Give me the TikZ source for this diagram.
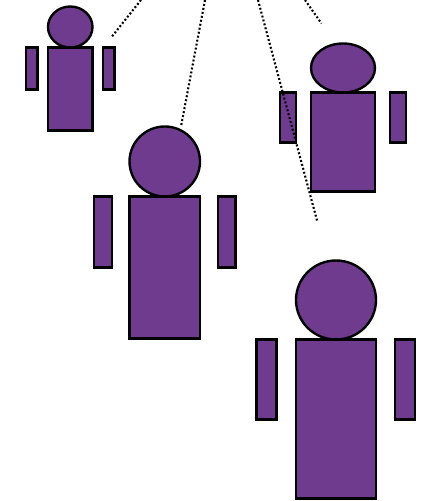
\documentclass[tikz,border=0pt]{standalone}
\usepackage{xcolor}
\usetikzlibrary{shapes.geometric}
\definecolor{mypurple}{RGB}{110,59,142}
\tikzset{
  limb/.style={rectangle, draw=black, fill=mypurple, inner sep=0pt, outer sep=0pt, line width=1.35pt},
  head/.style={ellipse, draw=black, fill=mypurple, inner sep=0pt, outer sep=0pt, line width=1.35pt},
  sightline/.style={line width=1.2pt, dash pattern=on 1.1pt off 1.2pt}
}
\begin{document}
\begin{tikzpicture}
  \useasboundingbox (0, 0) rectangle (8.46, 10.02);

  % Small figure
  \node[head, minimum width=0.89cm, minimum height=0.82cm] (headA) at (1.405, 9.48) {};
  \node[limb, minimum width=0.89cm, minimum height=1.66cm] (bodyA) at (1.405, 8.24) {};
  \node[limb, minimum width=0.23cm, minimum height=0.84cm] (armAl) at (0.635, 8.65) {};
  \node[limb, minimum width=0.23cm, minimum height=0.84cm] (armAr) at (2.175, 8.65) {};

  % Middle figure
  \node[head, minimum width=1.41cm, minimum height=1.40cm] (headB) at (3.295, 6.79) {};
  \node[limb, minimum width=1.41cm, minimum height=2.84cm] (bodyB) at (3.295, 4.67) {};
  \node[limb, minimum width=0.36cm, minimum height=1.42cm] (armBl) at (2.06, 5.38) {};
  \node[limb, minimum width=0.35cm, minimum height=1.42cm] (armBr) at (4.535, 5.38) {};

  % Far figure
  \node[head, minimum width=1.28cm, minimum height=0.98cm] (headC) at (6.86, 8.66) {};
  \node[limb, minimum width=1.28cm, minimum height=1.98cm] (bodyC) at (6.86, 7.18) {};
  \node[limb, minimum width=0.32cm, minimum height=1.00cm] (armCl) at (5.76, 7.67) {};
  \node[limb, minimum width=0.32cm, minimum height=1.00cm] (armCr) at (7.96, 7.67) {};

  % Near figure
  \node[head, minimum width=1.60cm, minimum height=1.58cm] (headD) at (6.72, 4.02) {};
  \node[limb, minimum width=1.60cm, minimum height=3.18cm] (bodyD) at (6.72, 1.64) {};
  \node[limb, minimum width=0.40cm, minimum height=1.60cm] (armDl) at (5.33, 2.43) {};
  \node[limb, minimum width=0.40cm, minimum height=1.60cm] (armDr) at (8.10, 2.43) {};

  % Sight lines
  \coordinate (topA) at (2.82, 10.02);
  \coordinate (endA) at (2.24, 9.29);
  \coordinate (topB) at (4.10, 10.02);
  \coordinate (endB) at (3.62, 7.49);
  \coordinate (topC) at (6.10, 10.02);
  \coordinate (endC) at (6.43, 9.55);
  \coordinate (topD) at (5.16, 10.02);
  \coordinate (endD) at (6.34, 5.61);
  \draw[sightline] (topA) -- (endA);
  \draw[sightline] (topB) -- (endB);
  \draw[sightline] (topC) -- (endC);
  \draw[sightline] (topD) -- (endD);
\end{tikzpicture}
\end{document}
